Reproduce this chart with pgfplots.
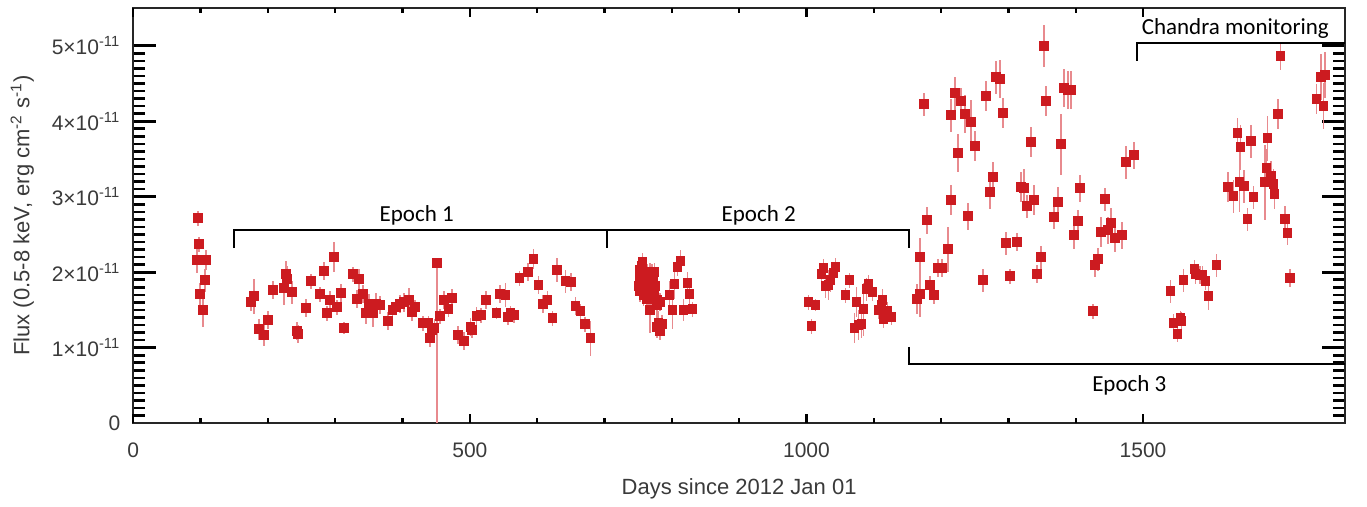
\documentclass[border=0pt]{standalone}
\usepackage{fontspec}
\setmainfont{Liberation Sans}
\newfontfamily\calib{Carlito}
\usepackage{pgfplots}
\usepackage{pgfplotstable}
\pgfplotsset{compat=1.18}

\definecolor{ptred}{HTML}{CC1B20}
\definecolor{errred}{HTML}{E88A8E}
\definecolor{labgray}{HTML}{3A3A3A}

% day, flux (1e-11 erg/cm2/s), error
\pgfplotstableread{
x y e
96.6 2.714 0.10
98.1 2.370 0.10
95.1 2.158 0.17
107.6 2.158 0.13
106.1 1.893 0.15
99.6 1.711 0.15
104.0 1.495 0.22
}\early

\pgfplotstableread{
x y e
174.5 1.601 0.12
179.8 1.681 0.23
187.2 1.244 0.14
194.7 1.164 0.14
200.6 1.363 0.12
208.0 1.768 0.12
223.5 1.787 0.22
227.4 1.972 0.18
228.8 1.906 0.18
236.3 1.734 0.15
243.7 1.225 0.12
244.5 1.177 0.12
257.1 1.522 0.12
264.5 1.879 0.10
277.9 1.707 0.10
283.8 2.012 0.12
288.3 1.456 0.10
292.7 1.628 0.12
298.7 2.197 0.20
303.1 1.535 0.10
309.1 1.721 0.12
313.5 1.257 0.08
326.9 1.972 0.10
335.8 1.906 0.13
332.9 1.641 0.12
341.8 1.707 0.12
346.2 1.456 0.14
350.7 1.575 0.14
356.6 1.456 0.18
361.1 1.575 0.15
367.0 1.562 0.12
378.9 1.350 0.12
384.9 1.495 0.10
390.8 1.535 0.10
396.7 1.575 0.12
402.7 1.601 0.13
410.1 1.628 0.16
414.6 1.469 0.12
419.0 1.535 0.10
430.9 1.323 0.10
438.4 1.323 0.10
441.3 1.125 0.12
444.3 1.230 0.12
447.3 1.257 0.12
456.2 1.416 0.10
462.1 1.628 0.12
468.1 1.509 0.10
474.0 1.654 0.12
482.9 1.164 0.12
491.8 1.085 0.12
500.8 1.270 0.12
503.7 1.230 0.10
509.7 1.416 0.12
517.1 1.429 0.10
524.5 1.628 0.12
539.4 1.456 0.08
545.3 1.707 0.12
552.8 1.694 0.16
557.2 1.403 0.10
560.2 1.456 0.10
566.1 1.429 0.10
573.6 1.919 0.10
586.9 1.999 0.12
594.4 2.171 0.13
601.8 1.826 0.12
609.2 1.575 0.12
615.2 1.628 0.12
622.6 1.389 0.10
630.0 2.025 0.16
641.9 1.879 0.15
650.8 1.866 0.12
656.8 1.548 0.12
664.2 1.482 0.10
671.6 1.310 0.10
679.1 1.125 0.23
}\epochone

\pgfplotstableread{
x y e
756.3 2.135 0.12
755.3 2.082 0.12
752.9 2.029 0.14
760.3 2.007 0.14
767.7 2.007 0.12
774.2 2.007 0.12
753.9 1.963 0.15
762.8 1.963 0.15
770.2 1.963 0.15
752.9 1.897 0.15
757.8 1.897 0.15
765.2 1.897 0.15
772.7 1.897 0.15
750.4 1.817 0.12
757.8 1.817 0.15
765.2 1.817 0.15
775.2 1.817 0.12
752.9 1.755 0.15
760.3 1.755 0.15
767.7 1.764 0.15
774.2 1.764 0.15
757.8 1.698 0.15
765.2 1.698 0.20
770.2 1.675 0.15
762.8 1.641 0.20
777.6 1.632 0.15
782.6 1.601 0.12
777.6 1.566 0.15
767.7 1.499 0.30
780.1 1.331 0.15
785.1 1.314 0.12
777.6 1.278 0.15
782.6 1.221 0.12
812.8 2.148 0.15
808.3 2.065 0.12
803.9 1.840 0.20
823.2 1.853 0.15
796.5 1.698 0.18
826.2 1.707 0.15
800.9 1.499 0.25
817.3 1.499 0.15
830.6 1.509 0.10
1003.0 1.601 0.10
1007.5 1.283 0.10
1013.4 1.562 0.08
1022.3 1.972 0.15
1025.3 2.052 0.12
1028.3 1.813 0.15
1032.7 1.826 0.20
1035.7 1.893 0.15
1040.1 1.985 0.12
1043.1 2.065 0.12
1058.0 1.694 0.10
1063.9 1.893 0.10
1071.3 1.257 0.20
1074.3 1.601 0.20
1077.3 1.297 0.20
1081.7 1.310 0.18
1084.7 1.509 0.35
1089.2 1.774 0.15
1092.1 1.840 0.12
1098.1 1.734 0.12
1107.0 1.495 0.12
1111.5 1.562 0.13
1112.9 1.628 0.15
1114.4 1.376 0.12
1120.4 1.482 0.12
1126.3 1.403 0.10
}\epochtwo

\pgfplotstableread{
x y e
1164.0 1.641 0.20
1168.4 1.707 0.30
1168.4 2.197 0.25
1174.4 4.224 0.15
1178.8 2.687 0.18
1183.3 1.826 0.12
1189.2 1.694 0.12
1195.2 2.052 0.12
1201.1 2.052 0.12
1210.0 2.303 0.30
1214.5 2.952 0.20
1214.5 4.078 0.22
1220.4 4.370 0.22
1224.9 3.575 0.25
1229.3 4.264 0.18
1235.3 4.091 0.25
1239.7 2.740 0.18
1244.2 3.985 0.30
1250.1 3.668 0.20
1262.0 1.893 0.15
1266.5 4.330 0.20
1272.4 3.058 0.22
1276.9 3.257 0.20
1281.3 4.581 0.22
1287.3 4.555 0.25
1291.7 4.105 0.20
1296.2 2.383 0.15
1302.1 1.946 0.10
1312.5 2.396 0.12
1318.5 3.125 0.20
1322.9 3.111 0.25
1327.4 2.873 0.15
1333.3 3.721 0.20
1337.8 2.952 0.20
1342.3 1.972 0.12
1348.2 2.197 0.15
1352.7 4.992 0.28
1355.6 4.264 0.20
1367.5 2.727 0.15
1373.5 2.926 0.20
1377.9 3.694 0.40
1382.4 4.436 0.25
1388.3 4.409 0.25
1392.8 4.409 0.25
1397.2 2.489 0.18
1403.2 2.674 0.15
1406.2 3.111 0.18
1425.5 1.482 0.10
1428.4 2.091 0.15
1432.9 2.171 0.15
1437.4 2.528 0.20
1443.3 2.966 0.15
1447.8 2.555 0.18
1452.2 2.648 0.20
1458.2 2.449 0.18
1468.6 2.489 0.18
1474.5 3.456 0.22
1486.4 3.548 0.18
}\epochthree

\pgfplotstableread{
x y e
1540.9 1.747 0.15
1545.3 1.323 0.12
1551.3 1.177 0.10
1555.7 1.389 0.10
1557.2 1.350 0.12
1560.2 1.893 0.15
1576.5 2.038 0.12
1578.0 1.972 0.13
1584.0 1.959 0.12
1588.4 1.959 0.12
1592.9 1.879 0.12
1597.3 1.681 0.18
1609.2 2.091 0.15
1625.6 3.125 0.20
1634.5 3.005 0.22
1640.4 3.840 0.20
1643.4 3.199 0.40
1644.9 3.654 0.30
1649.4 3.138 0.22
1655.3 2.701 0.15
1659.8 3.734 0.22
1664.2 2.992 0.15
1680.6 3.191 0.50
1683.5 3.376 0.25
1685.0 3.773 0.30
1689.5 3.270 0.20
1693.9 3.164 0.20
1695.4 3.032 0.20
1699.9 4.091 0.20
1704.3 4.860 0.18
1710.3 2.701 0.18
1714.7 2.515 0.15
1717.7 1.919 0.12
1757.8 4.290 0.20
1764.3 4.586 0.30
1769.7 4.612 0.30
1768.2 4.201 0.30
}\chandra

\pgfplotsset{
  fluxpts/.style={
    only marks, mark=square*, mark size=2.2pt,
    mark options={fill=ptred, draw=ptred, line width=0pt},
    error bars/.cd, y dir=both, y explicit,
    error mark=none,
    error bar style={errred, line width=0.9pt},
  },
}

\begin{document}
\begin{tikzpicture}
% main axis: data, labels and the long y ticks
\begin{axis}[
    scale only axis,
    width=605.85pt, height=207.6pt,
    xmin=0, xmax=1800, ymin=0, ymax=5.5,
    xtick={0,500,1000,1500},
    minor x tick num=4,
    xtick style={draw=none},
    ytick={0,1,2,3,4,5},
    yticklabels={0,
      1×10\textsuperscript{-11},
      2×10\textsuperscript{-11},
      3×10\textsuperscript{-11},
      4×10\textsuperscript{-11},
      5×10\textsuperscript{-11}},
    minor y tick num=9,
    tick align=inside,
    major tick length=11.5pt, minor tick length=6pt,
    ytick style={black, line width=1.3pt},
    axis line style={line width=1pt, black!85},
    /pgf/number format/assume math mode=true,
    /pgf/number format/1000 sep={},
    tick label style={font=\fontsize{10.5}{12}\selectfont, text=labgray},
    xticklabel style={yshift=-6.5pt},
    yticklabel style={xshift=-3pt},
    label style={font=\fontsize{11}{13}\selectfont, text=labgray},
    xlabel={Days since 2012 Jan 01},
    ylabel={Flux (0.5-8 keV, erg cm\textsuperscript{-2} s\textsuperscript{-1})},
    xlabel style={at={(axis description cs:0.5,0)}, anchor=center, yshift=-33pt},
    ylabel style={at={([xshift=-55.5pt]axis description cs:0,0.5)}, anchor=center},
]
% long error bar of the day-452 point, down to zero
\addplot[fluxpts] coordinates {(451.7,2.118) -= (0,2.118) += (0,0.06)};
\addplot[fluxpts] table[x=x, y=y, y error=e] {\early};
\addplot[fluxpts] table[x=x, y=y, y error=e] {\epochone};
\addplot[fluxpts] table[x=x, y=y, y error=e] {\epochtwo};
\addplot[fluxpts] table[x=x, y=y, y error=e] {\epochthree};
\addplot[fluxpts] table[x=x, y=y, y error=e] {\chandra};

% epoch brackets
\draw[line width=1pt] (axis cs:149.6,2.32) -- (axis cs:149.6,2.559) -- (axis cs:1152,2.559) -- (axis cs:1152,2.32);
\draw[line width=1pt] (axis cs:703.5,2.559) -- (axis cs:703.5,2.32);
\draw[line width=1pt] (axis cs:1152,1.01) -- (axis cs:1152,0.785) -- (axis cs:1800,0.785);
\draw[line width=1pt] (axis cs:1490.7,4.80) -- (axis cs:1490.7,5.036) -- (axis cs:1800,5.036);
\node[font=\calib\fontsize{11.5}{13}\selectfont] at (axis cs:421,2.748) {Epoch 1};
\node[font=\calib\fontsize{11.5}{13}\selectfont] at (axis cs:929,2.748) {Epoch 2};
\node[font=\calib\fontsize{11.5}{13}\selectfont] at (axis cs:1479.6,0.506) {Epoch 3};
\node[font=\calib\fontsize{11.5}{13}\selectfont] at (axis cs:1637,5.23) {Chandra monitoring};
\end{axis}
% second axis on top: only the short x ticks
\begin{axis}[
    scale only axis,
    width=605.85pt, height=207.6pt,
    xmin=0, xmax=1800, ymin=0, ymax=5.5,
    axis line style={draw=none},
    xtick={0,500,1000,1500}, xticklabels={},
    minor x tick num=4,
    ytick=\empty,
    tick align=inside,
    major tick length=4.5pt, minor tick length=2.5pt,
    xtick style={black, line width=1.2pt},
]
\end{axis}
\path ([shift={(-66.65pt,-40.4pt)}]current axis.south west) rectangle ([shift={(11pt,4pt)}]current axis.north east);
\end{tikzpicture}
\end{document}
